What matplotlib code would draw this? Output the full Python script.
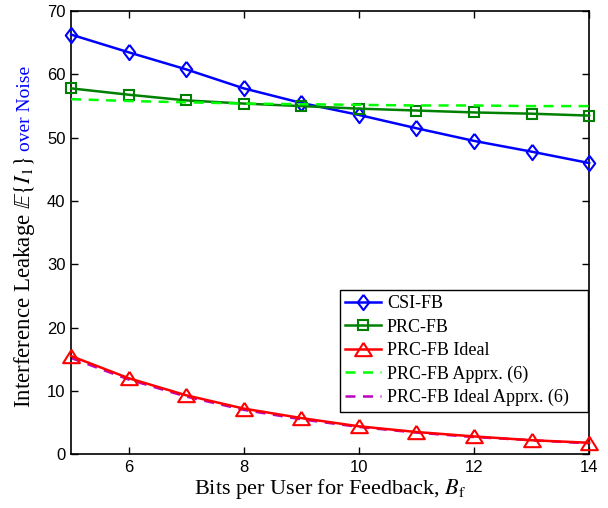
import matplotlib
matplotlib.use('Agg')
import matplotlib.pyplot as plt
import numpy as np

plt.rcParams['mathtext.fontset'] = 'stix'

bits = [5, 6, 7, 8, 9, 10, 11, 12, 13, 14]
csi_fb = [66.3, 63.5, 60.8, 57.8, 55.5, 53.6, 51.5, 49.5, 47.8, 46.0]
prc_fb = [57.8, 56.8, 55.9, 55.4, 55.0, 54.6, 54.3, 54.0, 53.8, 53.5]
prc_fb_apprx = [56.1, 55.8, 55.6, 55.4, 55.3, 55.2, 55.1, 55.1, 55.0, 55.0]
prc_ideal = [15.5, 12.0, 9.3, 7.2, 5.7, 4.4, 3.5, 2.8, 2.2, 1.8]
prc_ideal_apprx = [15.2, 11.8, 9.1, 7.0, 5.5, 4.3, 3.4, 2.7, 2.2, 1.7]

# marker shapes a bit wider/narrower than the stock ones
diamond = [(0, 1), (0.75, 0), (0, -1), (-0.75, 0), (0, 1)]
triangle = [(0, 0.8), (1, -0.8), (-1, -0.8), (0, 0.8)]

fig = plt.figure(figsize=(6.08, 5.08), dpi=100)
ax = fig.add_axes([0.117, 0.106, 0.852, 0.872])

l1, = ax.plot(bits, csi_fb, color='#0000ff', lw=1.8, marker=diamond, ms=11,
              mfc='none', mew=1.5, zorder=3, clip_on=False, label='CSI-FB')
l2, = ax.plot(bits, prc_fb, color='#008000', lw=1.8, marker='s', ms=7,
              mfc='none', mew=1.5, zorder=3, clip_on=False, label='PRC-FB')
l3, = ax.plot(bits, prc_ideal, color='#ff0000', lw=1.8, marker=triangle, ms=12,
              mfc='none', mew=1.5, zorder=3, clip_on=False, label='PRC-FB Ideal')
l4, = ax.plot(bits, prc_fb_apprx, color='#00ff00', lw=1.8, ls=(0, (4, 3)),
              zorder=4, label='PRC-FB Apprx. (6)')
l5, = ax.plot(bits, prc_ideal_apprx, color='#c000c0', lw=1.8, ls=(0, (4, 3)),
              zorder=2, label='PRC-FB Ideal Apprx. (6)\u00a0\u00a0\u00a0')

ax.set_xlim(5, 14)
ax.set_ylim(0, 70)
ax.set_xticks([6, 8, 10, 12, 14])
ax.set_yticks(np.arange(0, 71, 10))
ax.tick_params(direction='in', top=True, right=True, length=5, width=1,
               labelsize=12, pad=4)
for lab in ax.get_xticklabels() + ax.get_yticklabels():
    lab.set_family('Liberation Sans')
for s in ax.spines.values():
    s.set_linewidth(1.2)

ax.set_xlabel(r'Bits per User for Feedback, $B_\mathrm{f}$',
              family='Liberation Serif', fontsize=16, labelpad=2)

# y label in two colours
y0 = 0.679
ax.text(-0.09, y0, r'Interference Leakage $\mathbb{E}\{I_1\}$ ',
        transform=ax.transAxes, rotation=90, ha='center', va='top',
        family='Liberation Serif', fontsize=16.5, color='black')
ax.text(-0.089, y0 + 0.006, 'over Noise',
        transform=ax.transAxes, rotation=90, ha='center', va='bottom',
        family='Liberation Serif', fontsize=14, color='#0000ff')

leg = ax.legend(handles=[l1, l2, l3, l4, l5], loc='lower right',
                bbox_to_anchor=(0.997, 0.096), borderaxespad=0,
                fancybox=False, edgecolor='black', framealpha=1,
                prop={'family': 'Liberation Serif', 'size': 13},
                handlelength=2.0, handletextpad=0.3, labelspacing=0.35,
                borderpad=0.3)
leg.get_frame().set_linewidth(1.0)

fig.savefig('out.png', dpi=100)
